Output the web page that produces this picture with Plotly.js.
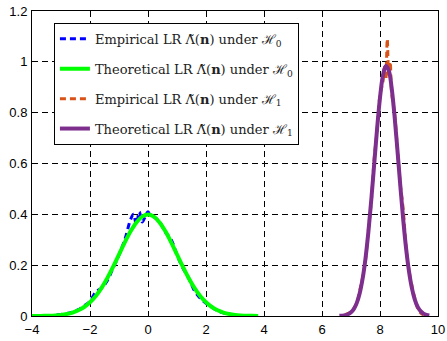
<!DOCTYPE html>
<html><head><meta charset="utf-8">
<script src="https://cdn.plot.ly/plotly-3.0.1.min.js"></script>
<style>body{margin:0;background:#fff}#c{width:447px;height:341px}</style>
</head><body><div id="c"></div>
<script>
// Theoretical LR under H0
const thH0x = [-4,-3.8,-3.6,-3.4,-3.2,-3,-2.8,-2.6,-2.4,-2.2,-2,-1.8,-1.6,-1.4,-1.2,-1,-0.8,-0.6,-0.4,-0.2,0,0.2,0.4,0.6,0.8,1,1.2,1.4,1.6,1.8,2,2.2,2.4,2.6,2.8,3,3.2,3.4,3.6,3.8];
const thH0y = [0.0001,0.0003,0.0006,0.0012,0.0024,0.0044,0.0079,0.0136,0.0224,0.0355,0.0540,0.0790,0.1109,0.1497,0.1942,0.2420,0.2897,0.3332,0.3683,0.3910,0.3989,0.3910,0.3683,0.3332,0.2897,0.2420,0.1942,0.1497,0.1109,0.0790,0.0540,0.0355,0.0224,0.0136,0.0079,0.0044,0.0024,0.0012,0.0006,0.0003];
// Empirical LR under H0
const emH0x = [-3.5,-3.2,-3.0,-2.8,-2.6,-2.4,-2.2,-2.0,-1.8,-1.6,-1.4,-1.2,-1.0,-0.8,-0.6,-0.5,-0.4,-0.3,-0.2,-0.1,0,0.1,0.2,0.4,0.6,0.8,1.0,1.2,1.4,1.6,1.8,2.0,2.2,2.4,2.6,2.8];
const emH0y = [0.002,0.003,0.006,0.010,0.016,0.025,0.040,0.058,0.095,0.110,0.140,0.190,0.240,0.300,0.380,0.400,0.360,0.410,0.370,0.390,0.410,0.390,0.390,0.370,0.330,0.300,0.240,0.190,0.150,0.100,0.070,0.050,0.035,0.020,0.012,0.004];
// Empirical LR under H1
const emH1x = [6.8,6.9,7.0,7.1,7.2,7.3,7.4,7.5,7.6,7.7,7.8,7.9,8.0,8.1,8.15,8.2,8.25,8.3,8.35,8.4,8.5,8.6,8.7,8.8,8.9,9.0,9.1,9.2,9.3,9.4,9.5];
const emH1y = [0.005,0.010,0.015,0.030,0.050,0.100,0.150,0.220,0.340,0.450,0.620,0.730,0.870,0.920,0.980,0.930,1.090,0.950,1.000,0.880,0.800,0.660,0.520,0.420,0.270,0.180,0.120,0.070,0.030,0.012,0.004];
// Theoretical LR under H1
const thH1x = [6.6,6.7,6.8,6.9,7.0,7.1,7.2,7.3,7.4,7.5,7.6,7.7,7.8,7.9,8.0,8.1,8.2,8.3,8.4,8.5,8.6,8.7,8.8,8.9,9.0,9.1,9.2,9.3,9.4,9.5,9.6,9.7];
const thH1y = [0.0006,0.0014,0.0033,0.0071,0.0145,0.0281,0.0516,0.0894,0.1465,0.2267,0.3313,0.4577,0.5974,0.7369,0.8588,0.9456,0.9839,0.9673,0.8986,0.7887,0.6541,0.5126,0.3796,0.2656,0.1756,0.1097,0.0647,0.0361,0.0190,0.0095,0.0045,0.0020];

const lam = '<span style="font-family:DejaVu Serif">Λ\u0303</span>';
const names = [
  'Empirical LR ' + lam + '(<b>n</b>) under ℋ<sub>0</sub>',
  'Theoretical LR ' + lam + '(<b>n</b>) under ℋ<sub>0</sub>',
  'Empirical LR ' + lam + '(<b>n</b>) under ℋ<sub>1</sub>',
  'Theoretical LR ' + lam + '(<b>n</b>) under ℋ<sub>1</sub>'
];

const traces = [
  {x: emH0x, y: emH0y, name: names[0], legendgroup:'a', mode:'lines', line:{color:'#0000ff', width:3, dash:'6px,4px', shape:'spline'}},
  {x: thH0x, y: thH0y, name: names[1], legendgroup:'b', mode:'lines', line:{color:'#00ff00', width:4, shape:'spline'}},
  {x: emH1x, y: emH1y, name: names[2], legendgroup:'c', mode:'lines', line:{color:'#d95319', width:3, dash:'6px,4px', shape:'spline'}},
  {x: thH1x, y: thH1y, name: names[3], legendgroup:'d', mode:'lines', line:{color:'#7e2f8e', width:4, shape:'spline'}}
];

const axisCommon = {
  showline:true, mirror:'ticks', linecolor:'#000', linewidth:1,
  ticks:'inside', ticklen:5, tickcolor:'#000',
  showgrid:true, gridcolor:'#000', gridwidth:1, griddash:'6px,4px',
  zeroline:false,
  tickfont:{family:'Liberation Sans', size:13, color:'#000'}
};

const layout = {
  width:447, height:341,
  margin:{l:32, r:9, t:11, b:25},
  paper_bgcolor:'#fff', plot_bgcolor:'#fff',
  xaxis: Object.assign({}, axisCommon, {range:[-4,10], tickvals:[-4,-2,0,2,4,6,8,10], ticktext:['−4','−2','0','2','4','6','8','10'], ticklabelstandoff:1}),
  yaxis: Object.assign({}, axisCommon, {range:[0,1.2], tickvals:[0,0.2,0.4,0.6,0.8,1,1.2], ticktext:['0','0.2','0.4','0.6','0.8','1','1.2'], ticklabelstandoff:1}),
  showlegend:true,
  legend:{x:0.054, y:0.961, xanchor:'left', yanchor:'top', bgcolor:'#fff', bordercolor:'#000', borderwidth:1,
    font:{family:'DejaVu Serif', size:13, color:'#222'},
    tracegroupgap:10, itemwidth:30, traceorder:'grouped'}
};

Plotly.newPlot('c', traces, layout, {staticPlot:true, displayModeBar:false});
</script></body></html>
